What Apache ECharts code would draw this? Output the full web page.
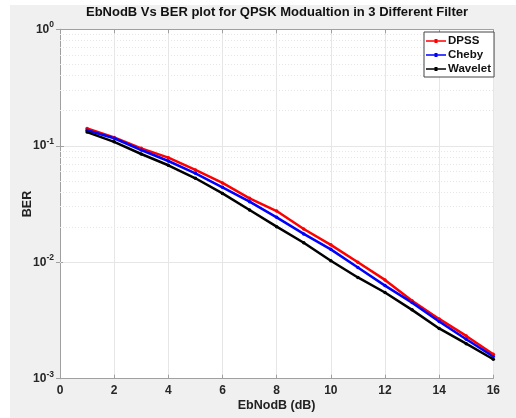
<!DOCTYPE html>
<html>
<head>
<meta charset="utf-8">
<script src="https://cdn.jsdelivr.net/npm/echarts@6/dist/echarts.min.js"></script>
<style>
  html, body { margin: 0; padding: 0; background: #fff; }
  #chart { position: absolute; left: 10px; top: 5px; width: 506px; height: 413px; }
</style>
</head>
<body>
<div id="chart"></div>
<script>
  // data
  const ebno = [1, 2, 3, 4, 5, 6, 7, 8, 9, 10, 11, 12, 13, 14, 15, 16];
  const berDpss = [0.141, 0.118, 0.095, 0.079, 0.062, 0.048, 0.0354, 0.0275, 0.0193, 0.0141, 0.0100, 0.00705, 0.00466, 0.00326, 0.00233, 0.00162];
  const berCheby = [0.136, 0.116, 0.092, 0.074, 0.058, 0.044, 0.0331, 0.0243, 0.0175, 0.0129, 0.0090, 0.0063, 0.0045, 0.0031, 0.00218, 0.00155];
  const berWavelet = [0.131, 0.108, 0.085, 0.068, 0.0526, 0.039, 0.0281, 0.0202, 0.0147, 0.0103, 0.0074, 0.0055, 0.0039, 0.0027, 0.0020, 0.00147];
  const minorGrid = [0.002, 0.003, 0.004, 0.005, 0.006, 0.007, 0.008, 0.009,
    0.02, 0.03, 0.04, 0.05, 0.06, 0.07, 0.08, 0.09,
    0.2, 0.3, 0.4, 0.5, 0.6, 0.7, 0.8, 0.9];

  const font = '"Liberation Sans", Arial, Helvetica, sans-serif';
  const pairs = (ys) => ebno.map((x, i) => [x, ys[i]]);
  const legendIcon = 'path://M0,3.2L20,3.2L20,4.8L0,4.8Z M8.5,2L11.5,2L11.5,6L8.5,6Z';

  const mkSeries = (name, color, ys) => ({
    name: name,
    type: 'line',
    data: pairs(ys),
    symbol: 'circle',
    symbolSize: 3.5,
    lineStyle: { width: 2.5, color: color },
    itemStyle: { color: color, borderWidth: 0 },
    z: 3
  });

  const chart = echarts.init(document.getElementById('chart'));

  chart.setOption({
    backgroundColor: '#f0f0f0',
    animation: false,
    graphic: [{
      type: 'text',
      x: 267,
      y: 7,
      style: {
        text: 'EbNodB Vs BER plot for QPSK Modualtion in 3 Different Filter',
        font: 'bold 13px ' + font,
        fill: '#111',
        textAlign: 'center',
        textVerticalAlign: 'middle'
      }
    }],
    legend: {
      orient: 'vertical',
      left: 414,
      top: 27,
      backgroundColor: '#fff',
      borderColor: '#444',
      borderWidth: 1,
      borderRadius: 0,
      padding: [3, 3, 2, 2],
      itemGap: 2,
      itemWidth: 20,
      itemHeight: 8,
      textStyle: { fontFamily: font, fontWeight: 'bold', fontSize: 11.5, color: '#111', padding: [0, 0, 0, -3] },
      data: [
        { name: 'DPSS', icon: legendIcon },
        { name: 'Cheby', icon: legendIcon },
        { name: 'Wavelet', icon: legendIcon }
      ]
    },
    grid: { left: 50, top: 24.3, width: 433.3, height: 349.4, outerBoundsMode: 'none', containLabel: false, show: true, backgroundColor: '#fff', borderWidth: 0 },
    xAxis: [{
      type: 'value',
      min: 0,
      max: 16,
      interval: 2,
      name: 'EbNodB (dB)',
      nameLocation: 'middle',
      nameGap: 20,
      nameMoveOverlap: false,
      nameTextStyle: { fontFamily: font, fontWeight: 'bold', fontSize: 12.5, color: '#222' },
      axisLine: { lineStyle: { color: '#a0a0a0' } },
      axisTick: { inside: true, length: 4, lineStyle: { color: '#a0a0a0' } },
      axisLabel: { fontFamily: font, fontWeight: 'bold', fontSize: 12, color: '#262626', margin: 6 },
      splitLine: { show: true, lineStyle: { color: '#e6e6e6', width: 1 } }
    }, {
      type: 'value',
      position: 'top',
      min: 0,
      max: 16,
      interval: 2,
      axisLine: { show: true, lineStyle: { color: '#a0a0a0' } },
      axisTick: { show: true, inside: true, length: 4, lineStyle: { color: '#a0a0a0' } },
      axisLabel: { show: false },
      splitLine: { show: false }
    }],
    yAxis: [{
      type: 'log',
      logBase: 10,
      min: 0.001,
      max: 1,
      name: 'BER',
      nameLocation: 'middle',
      nameGap: 26,
      nameMoveOverlap: false,
      nameTextStyle: { fontFamily: font, fontWeight: 'bold', fontSize: 12.5, color: '#222' },
      axisLine: { show: true, lineStyle: { color: '#a0a0a0' } },
      axisTick: { show: true, inside: true, length: 4, lineStyle: { color: '#a0a0a0' } },
      axisLabel: {
        margin: 6,
        formatter: function (v) {
          const e = Math.round(Math.log10(v));
          return '{b|10}{e|' + e + '}';
        },
        rich: {
          b: { fontFamily: font, fontWeight: 'bold', fontSize: 12, color: '#262626' },
          e: { fontFamily: font, fontWeight: 'bold', fontSize: 8.5, color: '#262626', padding: [0, 0, 9, 0] }
        }
      },
      splitLine: { show: true, lineStyle: { color: '#e6e6e6', width: 1 } }
    }, {
      type: 'log',
      logBase: 10,
      min: 0.001,
      max: 1,
      position: 'right',
      axisLine: { show: true, lineStyle: { color: '#a0a0a0' } },
      axisTick: { show: true, inside: true, length: 4, lineStyle: { color: '#a0a0a0' } },
      axisLabel: { show: false },
      splitLine: { show: false }
    }],
    series: [
      {
        // minor log grid lines
        type: 'line',
        data: [],
        z: 1,
        silent: true,
        markLine: {
          silent: true,
          symbol: 'none',
          z: 1,
          label: { show: false },
          lineStyle: { color: '#e6e6e6', type: [1, 2], width: 1 },
          data: minorGrid.map(v => ({ yAxis: v }))
        }
      },
      mkSeries('DPSS', '#ff0000', berDpss),
      mkSeries('Cheby', '#0000ff', berCheby),
      mkSeries('Wavelet', '#000000', berWavelet)
    ]
  });
</script>
</body>
</html>
